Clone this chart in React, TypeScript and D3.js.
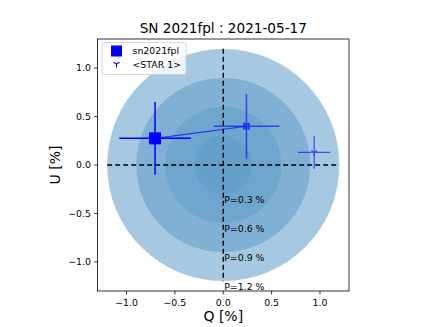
import * as d3 from "d3";

// polarisation data (in %)
const snQ = [-0.705, 0.24];
const snU = [0.275, 0.4];
const snQErr = [0.37, 0.34];
const snUErr = [0.375, 0.335];
const snAlpha = [1, 0.6];

const starQ = [0.94];
const starU = [0.13];
const starQErr = [0.167];
const starUErr = [0.168];

const pLevels = [1.2, 0.9, 0.6, 0.3];
const ringColors = ["#a6c9e1", "#80b1d5", "#6ea6ce", "#65a0ca"];
const ticks = [-1.0, -0.5, 0.0, 0.5, 1.0];

const W = 436;
const H = 327;
const font = "DejaVu Sans, sans-serif";

const fmt = (v: number) => (v < 0 ? "\u2212" : "") + Math.abs(v).toFixed(1);

export default function App() {
  const x = d3.scaleLinear().domain([-1.3, 1.3]).range([97.5, 349]);
  const y = d3.scaleLinear().domain([-1.3, 1.3]).range([291, 39]);
  const k = x(1) - x(0);

  const tri = (cx: number, cy: number, s: number) =>
    `M${cx},${cy}L${cx},${cy + s}M${cx},${cy}L${cx - 0.866 * s},${cy - 0.5 * s}M${cx},${cy}L${cx + 0.866 * s},${cy - 0.5 * s}`;

  const line = d3
    .line<number>()
    .x((_, i) => x(snQ[i]))
    .y((_, i) => y(snU[i]));

  return (
    <svg
      width={W}
      height={H}
      style={{ position: "absolute", left: 0, top: 0, background: "#fff" }}
      fontFamily={font}
    >
      <text x={223.3} y={33} textAnchor="middle" fontSize={13.6} fill="#000">
        SN 2021fpl : 2021-05-17
      </text>

      <defs>
        <clipPath id="plot">
          <rect x={97.5} y={39} width={251.5} height={252} />
        </clipPath>
      </defs>

      <g clipPath="url(#plot)">
        {pLevels.map((p, i) => (
          <circle key={p} cx={x(0)} cy={y(0)} r={p * k} fill={ringColors[i]} />
        ))}
        <line x1={x(-1.2)} x2={x(1.2)} y1={y(0)} y2={y(0)} stroke="#000" strokeWidth={1.4} strokeDasharray="5,3" />
        <line x1={x(0)} x2={x(0)} y1={y(1.2)} y2={y(-1.2)} stroke="#000" strokeWidth={1.4} strokeDasharray="5,3" />
        {pLevels.map((p) => (
          <text key={p} x={x(0.01)} y={y(-p) + 9} fontSize={9.4} fill="#000">
            P={p.toFixed(1)} %
          </text>
        ))}

        <path d={line(snQ) ?? ""} fill="none" stroke="#0000ff" strokeOpacity={0.7} strokeWidth={1.1} />
        {snQ.map((q, i) => (
          <g key={i} opacity={snAlpha[i]}>
            <line x1={x(q - snQErr[i])} x2={x(q + snQErr[i])} y1={y(snU[i])} y2={y(snU[i])} stroke="#0000ff" strokeWidth={1.5} />
            <line x1={x(q)} x2={x(q)} y1={y(snU[i] + snUErr[i])} y2={y(snU[i] - snUErr[i])} stroke="#0000ff" strokeWidth={1.5} />
            {i === 0 ? (
              <rect x={x(q) - 6} y={y(snU[i]) - 6} width={12} height={12} fill="#0000ff" />
            ) : (
              <rect x={x(q) - 3.5} y={y(snU[i]) - 3.5} width={7} height={7} fill="#0000ff" />
            )}
          </g>
        ))}

        {starQ.map((q, i) => (
          <g key={i} opacity={0.6}>
            <line x1={x(q - starQErr[i])} x2={x(q + starQErr[i])} y1={y(starU[i])} y2={y(starU[i])} stroke="#0000ff" strokeWidth={1.3} />
            <line x1={x(q)} x2={x(q)} y1={y(starU[i] + starUErr[i])} y2={y(starU[i] - starUErr[i])} stroke="#0000ff" strokeWidth={1.3} />
            <path d={tri(x(q), y(starU[i]), 3.5)} stroke="#0000ff" strokeWidth={1.3} fill="none" />
          </g>
        ))}
      </g>

      {/* frame */}
      <rect x={97.5} y={39} width={251.5} height={252} fill="none" stroke="#000" strokeWidth={0.8} />

      {/* x axis */}
      {ticks.map((t) => (
        <g key={"x" + t}>
          <line x1={x(t)} x2={x(t)} y1={291} y2={294.3} stroke="#000" strokeWidth={0.8} />
          <text x={x(t)} y={305.5} textAnchor="middle" fontSize={9.4} fill="#000">
            {fmt(t)}
          </text>
        </g>
      ))}
      <text x={223.3} y={321} textAnchor="middle" fontSize={14} fill="#000">
        Q [%]
      </text>

      {/* y axis */}
      {ticks.map((t) => (
        <g key={"y" + t}>
          <line x1={94.2} x2={97.5} y1={y(t)} y2={y(t)} stroke="#000" strokeWidth={0.8} />
          <text x={91} y={y(t) + 3.4} textAnchor="end" fontSize={9.4} fill="#000">
            {fmt(t)}
          </text>
        </g>
      ))}
      <text transform={`translate(60,${y(0)}) rotate(-90)`} textAnchor="middle" fontSize={14} fill="#000">
        U [%]
      </text>

      {/* legend */}
      <rect x={102} y={42.5} width={84} height={32} rx={2.5} fill="#fff" fillOpacity={0.8} stroke="#cccccc" strokeWidth={0.8} />
      <rect x={111} y={45.5} width={11} height={11} fill="#0000ff" />
      <text x={132.5} y={54.3} fontSize={9.4} fill="#000">sn2021fpl</text>
      <path d={tri(116.5, 64, 3.5)} stroke="#0000ff" strokeWidth={1.2} fill="none" />
      <text x={132.5} y={67.8} fontSize={9.4} fill="#000">&lt;STAR 1&gt;</text>
    </svg>
  );
}
